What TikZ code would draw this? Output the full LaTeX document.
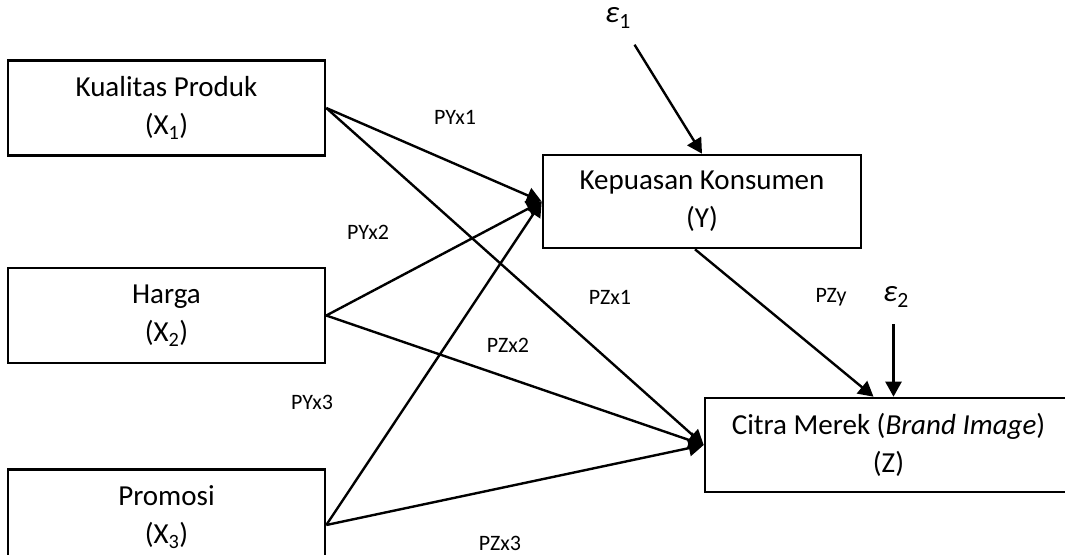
\documentclass[tikz,border=0pt]{standalone}
\usepackage{fontspec}
\setmainfont{Carlito}
\usetikzlibrary{arrows.meta,calc}

\begin{document}
\begin{tikzpicture}[x=1pt, y=-1pt,
    box/.style={draw, line width=2.6pt, minimum width=317pt, minimum height=95pt, inner sep=0pt,
      align=center, font=\fontsize{29}{38}\selectfont},
    lbl/.style={font=\fontsize{22}{26}\selectfont},
    err/.style={font=\fontsize{31}{34}\selectfont, inner sep=1pt},
    arr/.style={line width=2.4pt, -{Triangle[length=15pt, width=16pt]}}
]
\useasboundingbox (0,0) rectangle (1065,554);

\node[box] (x1) at (166.5,108)   {Kualitas Produk\\(X\textsubscript{1})};
\node[box] (x2) at (166.5,315.5) {Harga\\(X\textsubscript{2})};
\node[box] (x3) at (166.5,517)   {Promosi\\(X\textsubscript{3})};
\node[box, minimum width=318pt, minimum height=93pt] (y) at (702,201.5) {Kepuasan Konsumen\\(Y)};
\node[box, minimum width=367pt, minimum height=94pt] (z) at (888.5,445) {Citra Merek (\textit{Brand Image})\\(Z)};

\node[err] (e1) at (618,18)  {\textit{ε}\textsubscript{1}};
\node[err] (e2) at (896,297) {\textit{ε}\textsubscript{2}};

% paths to Y
\draw[arr] (x1.east) -- (y.west);
\draw[arr] (x2.east) -- (y.west);
\draw[arr] ($(x3.east)+(0,8)$) -- (y.west);
% paths to Z
\draw[arr] (x1.east) -- (z.west);
\draw[arr] (x2.east) -- (z.west);
\draw[arr] ($(x3.east)+(0,8)$) -- (z.west);
\draw[arr] ($(y.south)+(-7,0)$) -- ($(z.north)+(-15,0)$);
% errors
\draw[arr, shorten <=18pt] (e1) -- (y.north);
\draw[arr, shorten <=16pt] (e2.south -| z.north) ++(5,0) -- ($(z.north)+(5,0)$);

\node[lbl] (pyx1) at (455,117) {PYx1};
\node[lbl] (pyx2) at (368,232) {PYx2};
\node[lbl] (pyx3) at (312,402) {PYx3};
\node[lbl] (pzx1) at (610,297) {PZx1};
\node[lbl] (pzx2) at (508,345) {PZx2};
\node[lbl] (pzx3) at (500,543) {PZx3};
\node[lbl] (pzy)  at (831,297) {PZy};
\end{tikzpicture}
\end{document}
